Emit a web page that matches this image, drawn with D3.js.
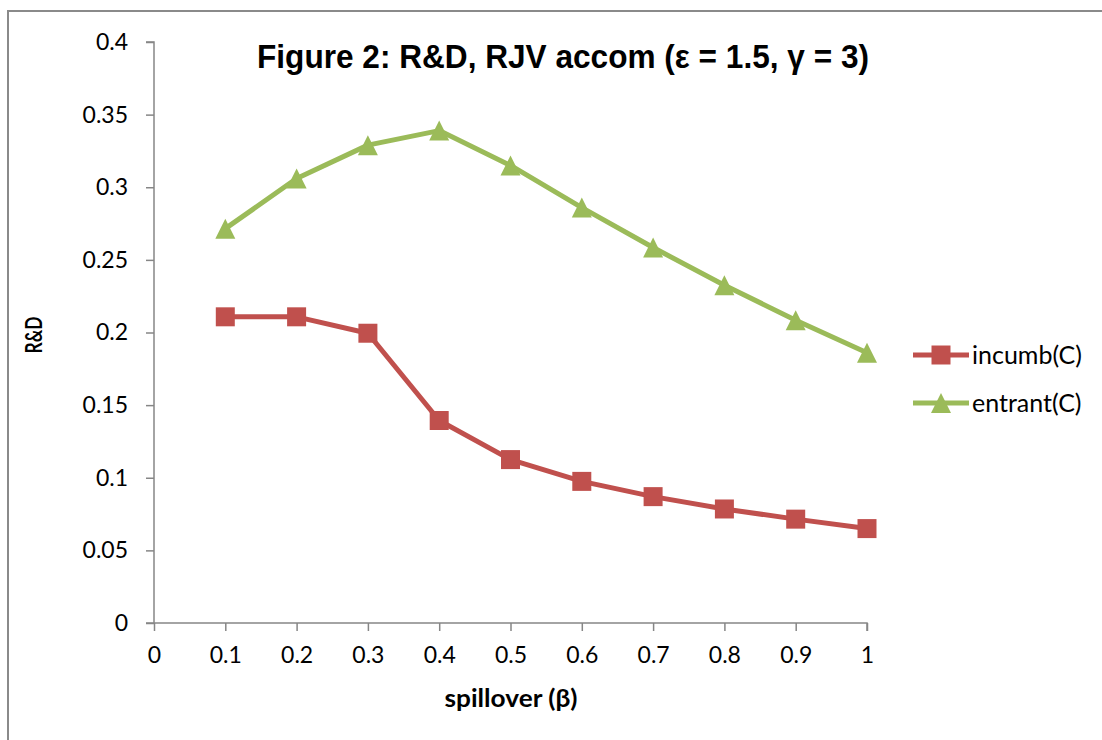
<!DOCTYPE html>
<html>
<head>
<meta charset="utf-8">
<script src="https://cdn.jsdelivr.net/npm/d3@7"></script>
<style>
  html, body { margin: 0; padding: 0; background: #ffffff; }
  svg { display: block; }
</style>
</head>
<body>
<svg id="chart" width="1102" height="740"></svg>
<script>
// ---- data ----
const spillover = [0.1, 0.2, 0.3, 0.4, 0.5, 0.6, 0.7, 0.8, 0.9, 1.0];
const incumbC  = [0.2108, 0.2108, 0.1995, 0.1394, 0.1125, 0.0975, 0.0870, 0.0785, 0.0715, 0.0650];
const entrantC = [0.2715, 0.3060, 0.3290, 0.3390, 0.3150, 0.2860, 0.2585, 0.2325, 0.2085, 0.1860];
const seriesNames = ["incumb(C)", "entrant(C)"];
const xTicks = [0, 0.1, 0.2, 0.3, 0.4, 0.5, 0.6, 0.7, 0.8, 0.9, 1];
const yTicks = [0, 0.05, 0.1, 0.15, 0.2, 0.25, 0.3, 0.35, 0.4];
const titleText = "Figure 2: R&D, RJV accom (\u03B5 = 1.5, \u03B3 = 3)";
const xTitle = "spillover (\u03B2)";
const yTitle = "R&D";

const colors = { incumb: "#C0504D", entrant: "#9BBB59" };
const axisColor = "#868686";

const svg = d3.select("#chart");

// frame
svg.append("rect")
  .attr("x", 8).attr("y", 11)
  .attr("width", 1110).attr("height", 750)
  .attr("fill", "none")
  .attr("stroke", "#8a8a8a")
  .attr("stroke-width", 2);

const x = d3.scaleLinear().domain([0, 1]).range([154, 867]);
const y = d3.scaleLinear().domain([0, 0.4]).range([623, 42]);

// y axis
const yAxis = d3.axisLeft(y).tickValues(yTicks).tickSize(8).tickPadding(18)
  .tickFormat(d => String(+d.toFixed(2)));
const gy = svg.append("g").attr("transform", `translate(${x(0)},0)`).call(yAxis);
gy.select(".domain").attr("stroke", axisColor).attr("stroke-width", 1.5)
  .attr("d", `M-8,${y(0.4)}H0V${y(0)}`);
gy.selectAll(".tick line").attr("stroke", axisColor).attr("stroke-width", 1.5);
gy.selectAll(".tick text")
  .attr("font-family", "Lato, 'Open Sans', sans-serif")
  .attr("font-size", 23)
  .attr("fill", "#000");

// x axis
const xAxis = d3.axisBottom(x).tickValues(xTicks).tickSize(8).tickPadding(16)
  .tickFormat(d => String(+d.toFixed(1)));
const gx = svg.append("g").attr("transform", `translate(0,${y(0)})`).call(xAxis);
gx.select(".domain").attr("stroke", axisColor).attr("stroke-width", 1.5)
  .attr("d", `M${x(0) - 8},0H${x(1)}V8`);
gx.selectAll(".tick line").attr("stroke", axisColor).attr("stroke-width", 1.5);
gx.selectAll(".tick text")
  .attr("font-family", "Lato, 'Open Sans', sans-serif")
  .attr("font-size", 23)
  .attr("fill", "#000");

// title
svg.append("text")
  .attr("x", 563).attr("y", 68)
  .attr("text-anchor", "middle")
  .attr("font-family", "'Liberation Sans', Arial, sans-serif")
  .attr("font-weight", "bold")
  .attr("font-size", 33)
  .attr("textLength", 612)
  .attr("lengthAdjust", "spacingAndGlyphs")
  .text(titleText);

// axis titles
svg.append("text")
  .attr("x", 511).attr("y", 707)
  .attr("text-anchor", "middle")
  .attr("font-family", "Lato, 'Open Sans', sans-serif")
  .attr("font-weight", "bold")
  .attr("font-size", 24)
  .attr("textLength", 133)
  .attr("lengthAdjust", "spacingAndGlyphs")
  .text(xTitle);

svg.append("text")
  .attr("transform", `translate(42,${335}) rotate(-90)`)
  .attr("text-anchor", "middle")
  .attr("font-family", "Lato, 'Open Sans', sans-serif")
  .attr("font-weight", "bold")
  .attr("font-size", 22)
  .attr("textLength", 37)
  .attr("lengthAdjust", "spacingAndGlyphs")
  .text(yTitle);

// custom triangle marker: 20 wide, 20 tall, centred on its box
const tallTriangle = {
  draw(context, size) {
    const w = Math.sqrt(size), h = w;
    context.moveTo(0, -h / 2);
    context.lineTo(w / 2, h / 2);
    context.lineTo(-w / 2, h / 2);
    context.closePath();
  }
};

// series
const line = d3.line().x((d, i) => x(spillover[i])).y(d => y(d));
const series = [
  { key: "incumb", name: seriesNames[0], values: incumbC, color: colors.incumb, symbol: d3.symbolSquare, size: 19 * 19 },
  { key: "entrant", name: seriesNames[1], values: entrantC, color: colors.entrant, symbol: tallTriangle, size: 20 * 20 }
];

series.forEach(s => {
  svg.append("path")
    .attr("d", line(s.values))
    .attr("fill", "none")
    .attr("stroke", s.color)
    .attr("stroke-width", 5)
    .attr("stroke-linejoin", "round");
  svg.append("g").selectAll("path")
    .data(s.values)
    .join("path")
    .attr("transform", (d, i) => `translate(${x(spillover[i])},${y(d)})`)
    .attr("d", d3.symbol().type(s.symbol).size(s.size))
    .attr("fill", s.color);
});

// legend
const legendY = [355, 403];
series.forEach((s, i) => {
  const g = svg.append("g").attr("transform", `translate(913,${legendY[i]})`);
  g.append("line").attr("x1", 0).attr("x2", 56).attr("y1", 0).attr("y2", 0)
    .attr("stroke", s.color).attr("stroke-width", 5);
  g.append("path").attr("transform", "translate(28,0)")
    .attr("d", d3.symbol().type(s.symbol).size(s.size))
    .attr("fill", s.color);
  g.append("text").attr("x", 59).attr("y", 0).attr("dy", "0.35em")
    .attr("font-family", "Lato, 'Open Sans', sans-serif")
    .attr("font-size", 25)
    .text(s.name);
});
</script>
</body>
</html>
